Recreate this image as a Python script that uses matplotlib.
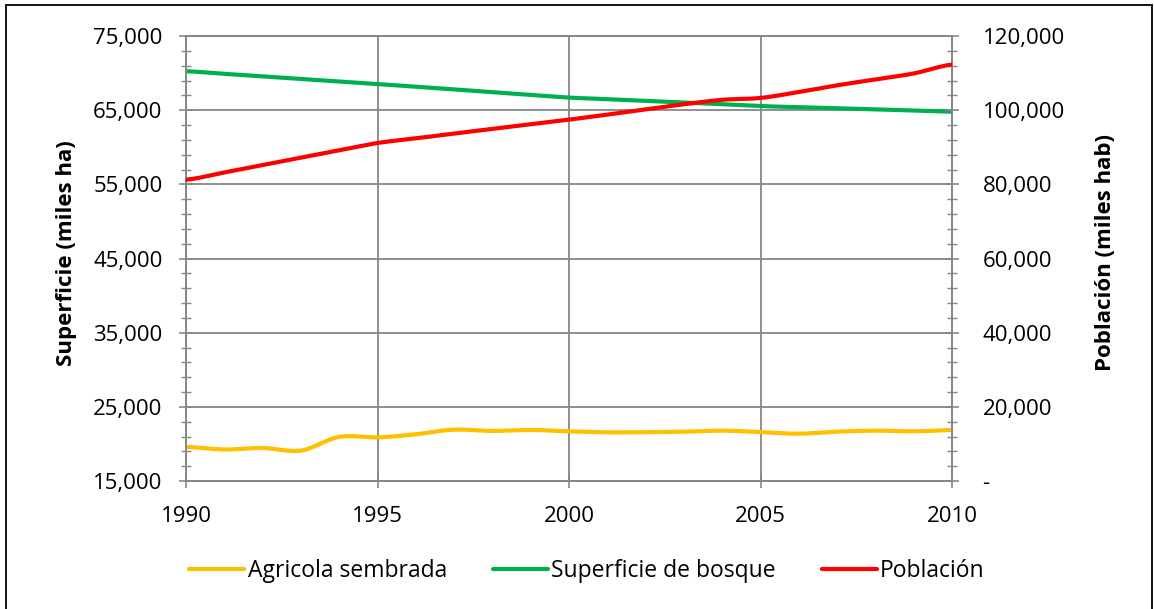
import numpy as np
import matplotlib
matplotlib.use("Agg")
import matplotlib.pyplot as plt
from matplotlib.ticker import MultipleLocator, FuncFormatter
from matplotlib.patches import Rectangle

years = list(range(1990, 2011))
agricola = [19600, 19250, 19450, 19100, 20950, 20880, 21300, 21920, 21750, 21880,
            21700, 21560, 21580, 21650, 21790, 21600, 21380, 21650, 21790, 21700, 21880]
bosque = [70250, 69900, 69560, 69220, 68880, 68530, 68160, 67800, 67430, 67060,
          66700, 66480, 66260, 66040, 65800, 65550, 65400, 65260, 65110, 64960, 64800]
poblacion = [81250, 83200, 85200, 87200, 89200, 91150, 92400, 93700, 94950, 96200,
             97450, 98800, 100200, 101600, 102800, 103300, 104900, 106700, 108300, 109900, 112300]
series_names = ["Agricola sembrada", "Superficie de bosque", "Población"]
colors = ["#FFC000", "#00B050", "#FF0000"]


def smooth(x, y, n=12):
    # Catmull-Rom style smoothing (like Excel smoothed lines) for rendering only
    x = np.asarray(x, float); y = np.asarray(y, float)
    xs, ys = [], []
    for i in range(len(x) - 1):
        p0 = y[i - 1] if i > 0 else y[i]
        p1, p2 = y[i], y[i + 1]
        p3 = y[i + 2] if i + 2 < len(y) else y[i + 1]
        t = np.linspace(0, 1, n, endpoint=False)
        yy = 0.5 * ((2 * p1) + (-p0 + p2) * t + (2 * p0 - 5 * p1 + 4 * p2 - p3) * t ** 2
                    + (-p0 + 3 * p1 - 3 * p2 + p3) * t ** 3)
        xs.append(x[i] + (x[i + 1] - x[i]) * t)
        ys.append(yy)
    xs.append([x[-1]]); ys.append([y[-1]])
    return np.concatenate(xs), np.concatenate(ys)


plt.rcParams['font.family'] = ['Open Sans', 'DejaVu Sans']
fig = plt.figure(figsize=(11.54, 6.09), dpi=100)
ax = fig.add_axes([186 / 1154, 1 - 481 / 609, (952 - 186) / 1154, (481 - 36) / 609])
ax2 = ax.twinx()

grid_c = "#878787"
ax.set_xlim(1990, 2010)
ax.set_ylim(15000, 75000)
ax2.set_ylim(0, 120000)

xs, ys = smooth(years, agricola)
l1, = ax.plot(xs, ys, color=colors[0], lw=3, solid_capstyle='round', zorder=3)
xs, ys = smooth(years, bosque)
l2, = ax.plot(xs, ys, color=colors[1], lw=3, solid_capstyle='round', zorder=3)
xs, ys = smooth(years, poblacion)
l3, = ax2.plot(xs, ys, color=colors[2], lw=3, solid_capstyle='round', zorder=3)

ax.xaxis.set_major_locator(MultipleLocator(5))
ax.yaxis.set_major_locator(MultipleLocator(10000, offset=5000))
ax.yaxis.set_minor_locator(MultipleLocator(2000, offset=1000))
ax2.yaxis.set_major_locator(MultipleLocator(20000))
ax2.yaxis.set_minor_locator(MultipleLocator(4000))
ax.yaxis.set_major_formatter(FuncFormatter(lambda v, p: f"{int(round(v)):,}"))
ax2.yaxis.set_major_formatter(FuncFormatter(lambda v, p: "-" if abs(v) < 1 else f"{int(round(v)):,}"))

ax.grid(True, which='major', color=grid_c, lw=1.3)
ax.set_axisbelow(True)
for a in (ax, ax2):
    for s in a.spines.values():
        s.set_color(grid_c)
        s.set_linewidth(1.3)
ax.tick_params(axis='both', which='major', direction='inout', length=10, width=1.2,
               color=grid_c, labelsize=16, labelcolor='black')
ax.tick_params(axis='y', which='minor', direction='inout', length=7, width=1.0, color=grid_c)
ax.tick_params(axis='x', which='major', pad=13)
ax.tick_params(axis='y', which='major', pad=12)
ax2.tick_params(axis='y', which='major', direction='inout', length=10, width=1.2,
                color=grid_c, labelsize=16, labelcolor='black', pad=17)
ax2.tick_params(axis='y', which='minor', direction='inout', length=7, width=1.0, color=grid_c)
for lab in ax2.get_yticklabels():
    lab.set_horizontalalignment('left')

ax.set_ylabel("Superficie (miles ha)", fontsize=16, fontweight='bold')
ax2.set_ylabel("Población (miles hab)", fontsize=16, fontweight='bold')
ax.yaxis.set_label_coords((77 - 186) / (952 - 186), (481 - 253) / 445)
ax2.yaxis.set_label_coords((1095 - 186) / (952 - 186), (481 - 252) / 445)

fig.legend([l1, l2, l3], series_names, loc='center', bbox_to_anchor=(587 / 1154, 1 - 571 / 609),
           ncol=3, frameon=False, fontsize=16.5, handlelength=2.4, handletextpad=0.15,
           columnspacing=2.0)

fig.patches.append(Rectangle((6 / 1154, -0.05), (1152 - 6) / 1154, 1 - 5 / 609 + 0.05,
                             transform=fig.transFigure, fill=False, edgecolor='black', lw=1.3))

fig.savefig("out.png", dpi=100)
